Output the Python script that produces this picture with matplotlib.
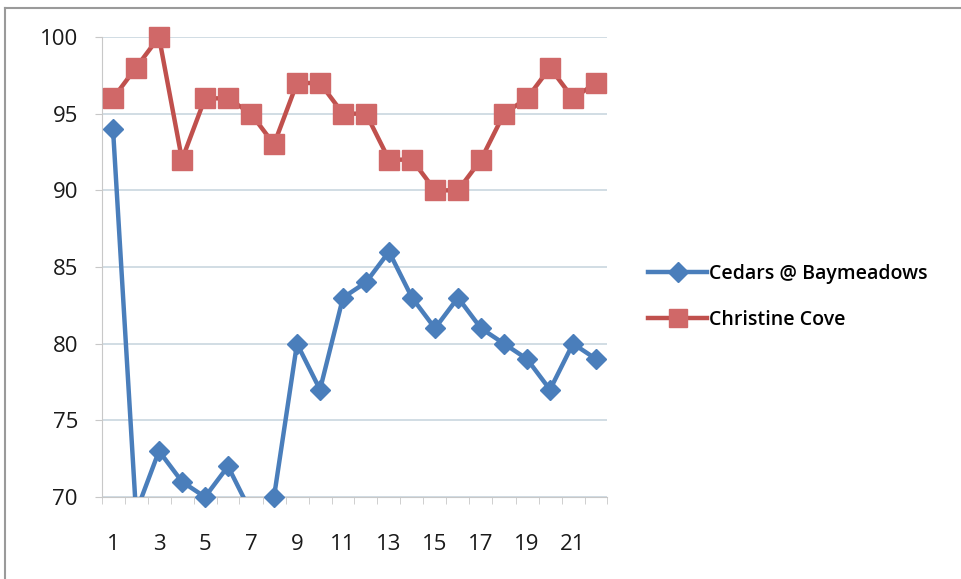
import matplotlib
matplotlib.use("Agg")
import matplotlib.pyplot as plt
from matplotlib.lines import Line2D
import numpy as np

days = list(range(1, 23))
cedars = [94, 69, 73, 71, 70, 72, 69, 70, 80, 77, 83, 84, 86, 83, 81, 83, 81, 80, 79, 77, 80, 79]
christine = [96, 98, 100, 92, 96, 96, 95, 93, 97, 97, 95, 95, 92, 92, 90, 90, 92, 95, 96, 98, 96, 97]
series_names = ["Cedars @ Baymeadows", "Christine Cove"]
y_ticks = [70, 75, 80, 85, 90, 95, 100]
x_tick_labels = [1, 3, 5, 7, 9, 11, 13, 15, 17, 19, 21]

blue = "#4A7EBB"
red_line = "#C0504D"
red_marker = "#D06868"
font = "Open Sans"
W, H = 962, 579

fig = plt.figure(figsize=(W / 100, H / 100), dpi=100)
fig.patch.set_facecolor("white")

# chart frame (top and left edges visible)
fig.add_artist(Line2D([5 / W, 1.0], [1 - 8 / H, 1 - 8 / H], transform=fig.transFigure,
                      color="#9A9A9A", linewidth=1.5))
fig.add_artist(Line2D([5 / W, 5 / W], [0.0, 1 - 8 / H], transform=fig.transFigure,
                      color="#9A9A9A", linewidth=1.5))

ax = fig.add_axes([101.5 / W, 1 - 497 / H, 506 / W, 460 / H])
ax.set_xlim(0.5, 22.5)
ax.set_ylim(70, 100)

for yv in y_ticks:
    ax.axhline(yv, color="#C5D3DD", linewidth=1.1, zorder=0)

x = np.array(days)
for vals, col, mcol, mk, ms in [(cedars, blue, blue, "D", 10.5),
                                  (christine, red_line, red_marker, "s", 14)]:
    v = np.array(vals, dtype=float)
    ax.plot(x, v, color=col, linewidth=3.2, zorder=3, solid_joinstyle="round")
    inside = (v >= 70) & (v <= 100)
    ax.plot(x[inside], v[inside], linestyle="none", marker=mk, markersize=ms,
            markerfacecolor=mcol, markeredgecolor=mcol, zorder=4, clip_on=False)

for s in ["top", "right"]:
    ax.spines[s].set_visible(False)
ax.spines["left"].set_color("#C8C8C8")
ax.spines["bottom"].set_color("#C8C8C8")

ax.set_yticks(y_ticks)
ax.set_yticklabels([str(t) for t in y_ticks], fontsize=16, family=font, color="#1A1A1A")
ax.set_xticks(x_tick_labels)
ax.set_xticklabels([str(t) for t in x_tick_labels], fontsize=16, family=font, color="#1A1A1A")
ax.tick_params(axis="x", length=0, pad=27)
ax.tick_params(axis="y", length=5, color="#C8C8C8", pad=12)
ax.set_xticks(np.arange(0.5, 23, 1), minor=True)
ax.tick_params(axis="x", which="minor", length=5, color="#C8C8C8")

handles = [Line2D([0], [0], color=blue, linewidth=3.2, marker="D", markersize=10.5),
           Line2D([0], [0], color=red_line, linewidth=3.2, marker="s", markersize=13,
                  markerfacecolor=red_marker, markeredgecolor=red_marker)]
fig.legend(handles, series_names, loc="upper left", bbox_to_anchor=(631 / W, 1 - 246 / H),
           frameon=False, handlelength=3.0, handletextpad=0.1, labelspacing=1.35,
           prop={"family": font, "size": 14, "weight": "semibold"})

fig.savefig("out.png", dpi=100)
